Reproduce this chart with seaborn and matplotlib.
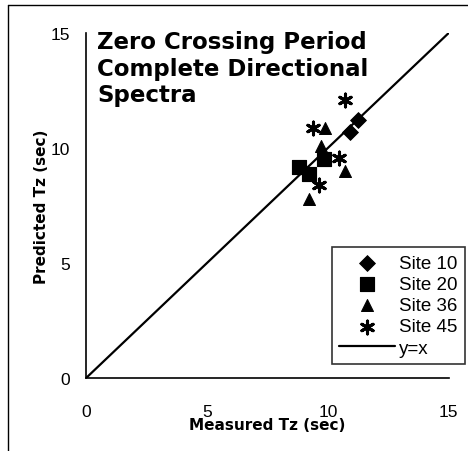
import pandas as pd
import matplotlib.pyplot as plt
import matplotlib.lines as mlines
import seaborn as sns

# Measured vs predicted zero crossing period (sec)
site10_x = [11.25, 10.9]
site10_y = [11.2, 10.7]
site20_x = [8.8, 9.2, 9.85]
site20_y = [9.15, 8.85, 9.5]
site36_x = [9.9, 9.7, 10.7, 9.2]
site36_y = [10.85, 10.1, 9.0, 7.8]
site45_x = [9.4, 10.45, 9.65, 10.7]
site45_y = [10.85, 9.55, 8.4, 12.1]
line_x = [0, 15]
line_y = [0, 15]

sns.set_style("white")
plt.rcParams['font.family'] = ['Liberation Sans', 'DejaVu Sans']
plt.rcParams['text.color'] = 'black'
plt.rcParams['axes.labelcolor'] = 'black'

fig = plt.figure(figsize=(4.68, 4.52), dpi=100)
ax = fig.add_axes([0.184, 0.1615, 0.775, 0.7635])

sns.lineplot(x=line_x, y=line_y, color='black', linewidth=1.6, ax=ax, label='y=x')

ast = (6, 2, 0)
sns.scatterplot(x=site10_x, y=site10_y, marker='D', s=65, color='black', edgecolor='black', ax=ax, label='Site 10', zorder=3)
sns.scatterplot(x=site20_x, y=site20_y, marker='s', s=110, color='black', edgecolor='black', ax=ax, label='Site 20', zorder=3)
sns.scatterplot(x=site36_x, y=site36_y, marker='^', s=75, color='black', edgecolor='black', ax=ax, label='Site 36', zorder=3)
sns.scatterplot(x=site45_x, y=site45_y, marker=ast, s=85, color='black', linewidth=2.2, ax=ax, label='Site 45', zorder=3)

ax.set_xlim(0, 15)
ax.set_ylim(0, 15)
ax.set_xticks([0, 5, 10, 15])
ax.set_yticks([0, 5, 10, 15])
ax.tick_params(direction='inout', length=9, width=1, labelsize=12.5, colors='black', pad=7)
ax.tick_params(axis='x', pad=14)
for s in ['top', 'right']:
    ax.spines[s].set_visible(False)
for s in ['left', 'bottom']:
    ax.spines[s].set_color('black')
    ax.spines[s].set_linewidth(1.2)

bold = dict(family='DejaVu Sans', fontweight='bold', color='black')
ax.set_xlabel('Measured Tz (sec)', fontsize=11, labelpad=-1, **bold)
ax.set_ylabel('Predicted Tz (sec)', fontsize=11, labelpad=1, **bold)

ax.text(0.03, 1.008, 'Zero Crossing Period\nComplete Directional\nSpectra', transform=ax.transAxes,
        fontsize=16.5, va='top', ha='left', linespacing=1.2, **bold)

handles, labels = ax.get_legend_handles_labels()
order = [1, 2, 3, 4, 0]
leg = ax.legend([handles[i] for i in order], [labels[i] for i in order], loc='lower right',
                bbox_to_anchor=(1.045, 0.04), fontsize=13.5, frameon=True, fancybox=False,
                edgecolor='black', handlelength=3.0, handletextpad=0.2, borderpad=0.4,
                labelspacing=0.22, borderaxespad=0)
leg.get_frame().set_linewidth(1.2)
for t in leg.get_texts():
    t.set_color('black')

fig.add_artist(mlines.Line2D([0.017, 0.017], [0, 0.987], color='black', linewidth=1))
fig.add_artist(mlines.Line2D([0.017, 1], [0.987, 0.987], color='black', linewidth=1))

fig.savefig('out.png', dpi=100)
